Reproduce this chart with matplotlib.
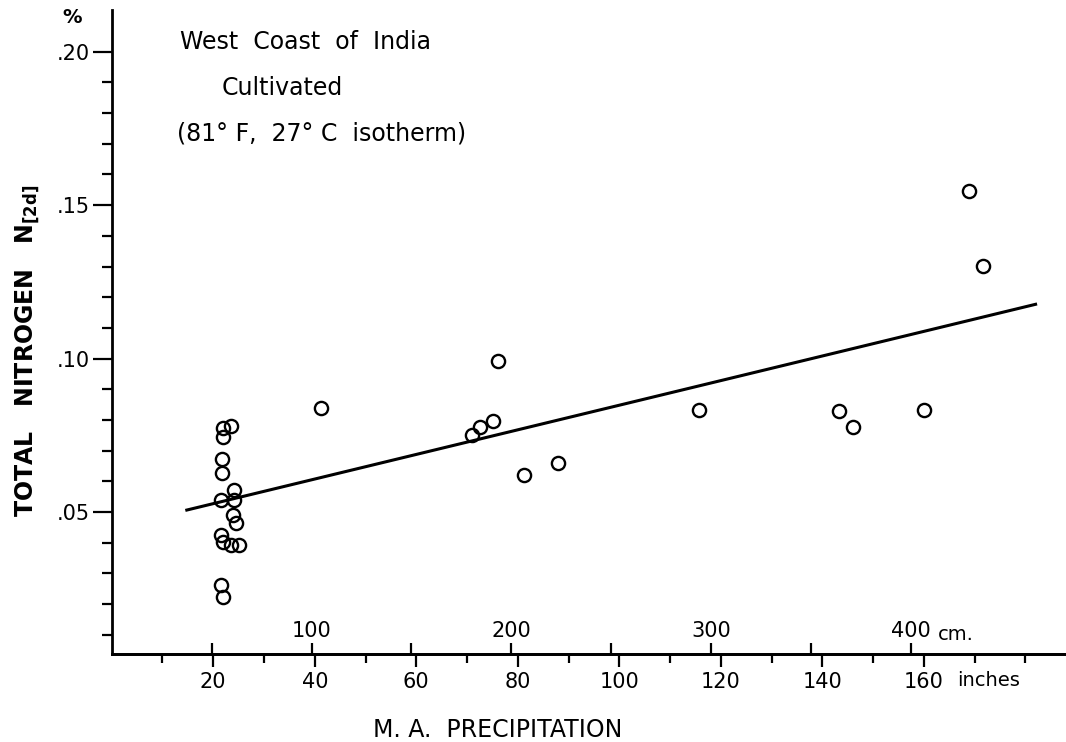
import matplotlib
matplotlib.use("Agg")
import matplotlib.pyplot as plt
import numpy as np

plt.rcParams.update({'font.family': 'DejaVu Sans', 'font.size': 15})

# valeurs : precipitation (pouces) / azote total (%)
precip_in = [22.0, 23.5, 22.0, 21.7, 21.7, 21.5, 24.1, 24.1, 23.8, 24.5,
             21.5, 22.0, 23.5, 25.1, 21.5, 22.0,
             41.3, 70.9, 72.6, 75.1, 76.1, 81.3, 88.0,
             115.7, 143.3, 146.1, 160.0, 168.9, 171.7]
nitrogen = [0.0773, 0.0780, 0.0743, 0.0672, 0.0626, 0.0539, 0.0572, 0.0539, 0.0490, 0.0463,
            0.0425, 0.0403, 0.0392, 0.0392, 0.0262, 0.0224,
            0.0839, 0.0751, 0.0778, 0.0797, 0.0992, 0.0620, 0.0659,
            0.0832, 0.0830, 0.0778, 0.0832, 0.1547, 0.1301]

# droite de regression (extremites lues)
fit_x = [14.5, 182.3]
fit_y = [0.0505, 0.1178]

inch_major = [20, 40, 60, 80, 100, 120, 140, 160]
inch_minor = [10, 30, 50, 70, 90, 110, 130, 150, 170, 180]
cm_ticks = [50, 100, 150, 200, 250, 300, 350, 400]
cm_labels = ['', '100', '', '200', '', '300', '', '400']
y_major = [0.05, 0.10, 0.15, 0.20]
y_labels = ['.05', '.10', '.15', '.20']
y_minor = [0.01, 0.02, 0.03, 0.04, 0.06, 0.07, 0.08, 0.09,
           0.11, 0.12, 0.13, 0.14, 0.16, 0.17, 0.18, 0.19]

XMIN, XMAX = 0, 188
YMIN, YMAX = 0.0037, 0.2136

fig = plt.figure(figsize=(10.66, 7.42), dpi=100)
ax = fig.add_axes([0.1048, 0.1186, 0.8952, 0.8679])

ax.plot(fit_x, fit_y, color='black', linewidth=2.2, solid_capstyle='butt')
ax.plot(precip_in, nitrogen, linestyle='none', marker='o', markersize=9.5,
        markerfacecolor='none', markeredgecolor='black', markeredgewidth=1.7)

ax.set_xlim(XMIN, XMAX)
ax.set_ylim(YMIN, YMAX)

for s in ['top', 'right']:
    ax.spines[s].set_visible(False)
for s in ['left', 'bottom']:
    ax.spines[s].set_linewidth(2.0)

ax.set_yticks(y_major)
ax.set_yticklabels(y_labels)
ax.set_yticks(y_minor, minor=True)
ax.tick_params(axis='y', which='major', direction='out', length=14, width=1.6, pad=2, labelsize=15)
ax.tick_params(axis='y', which='minor', direction='out', length=7, width=1.6)

ax.set_xticks(inch_major)
ax.set_xticklabels([str(v) for v in inch_major])
ax.set_xticks(inch_minor, minor=True)
ax.tick_params(axis='x', which='major', direction='out', length=9, width=1.6, pad=4, labelsize=15)
ax.tick_params(axis='x', which='minor', direction='out', length=6.5, width=1.6)

# echelle en cm sur le meme axe, graduee vers le haut
ax2 = ax.twiny()
ax2.spines['top'].set_position(('axes', 0.0))
ax2.spines['top'].set_linewidth(2.0)
for s in ['left', 'right', 'bottom']:
    ax2.spines[s].set_visible(False)
ax2.set_xlim(XMIN * 2.54, XMAX * 2.54)
ax2.set_xticks(cm_ticks)
ax2.set_xticklabels(cm_labels)
ax2.tick_params(axis='x', direction='out', length=8, width=1.6, pad=1, labelsize=15)

ax2.annotate('cm.', xy=(400, 0), xycoords=('data', 'axes fraction'),
             xytext=(19, 14), textcoords='offset points', ha='left', va='center', fontsize=14)
ax.annotate('inches', xy=(160, 0), xycoords=('data', 'axes fraction'),
            xytext=(24, -19), textcoords='offset points', ha='left', va='center', fontsize=14)

ax.set_xlabel('M. A.  PRECIPITATION', fontsize=17)
ax.xaxis.set_label_coords(0.404, -0.099)
ax.set_ylabel(r'TOTAL   NITROGEN   N$_{\mathregular{[2d]}}$', fontsize=17, fontweight='bold')
ax.yaxis.set_label_coords(-0.074, 0.47)

ax.text(-0.0416, 0.988, '%', transform=ax.transAxes, ha='center', va='center',
        fontsize=14, fontweight='bold')

ax.text(0.0716, 0.951, 'West  Coast  of  India', transform=ax.transAxes, ha='left', va='center', fontsize=17)
ax.text(0.1156, 0.879, 'Cultivated', transform=ax.transAxes, ha='left', va='center', fontsize=17)
ax.text(0.0684, 0.809, '(81° F,  27° C  isotherm)', transform=ax.transAxes, ha='left', va='center', fontsize=17)

fig.savefig('out.png', dpi=100)
